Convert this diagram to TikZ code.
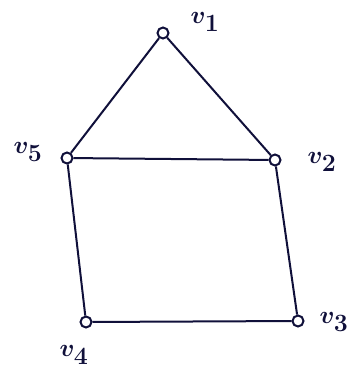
\documentclass[tikz,border=0pt]{standalone}
\usetikzlibrary{positioning}
\definecolor{ink}{HTML}{10103A}
\begin{document}
\begin{tikzpicture}[x=1pt,y=-1pt,
  vtx/.style={circle,draw=ink,line width=2pt,fill=white,minimum size=11pt,inner sep=0pt},
  edge/.style={draw=ink,line width=2pt},
  lbl/.style={text=ink,font=\boldmath\fontsize{35}{35}\selectfont}]
\useasboundingbox (0,0) rectangle (353,380);
\node[vtx] (v1) at (163,33) {};
\node[vtx] (v2) at (275,160) {};
\node[vtx] (v3) at (298,321) {};
\node[vtx] (v4) at (86,322) {};
\node[vtx] (v5) at (67,158) {};
\path[edge] (v1) -- (v2);
\path[edge] (v1) -- (v5);
\path[edge] (v5) -- (v2);
\path[edge] (v5) -- (v4);
\path[edge] (v4) -- (v3);
\path[edge] (v2) -- (v3);
\node[lbl] (l1) at (205,22) {$v_1$};
\node[lbl] (l5) at (28,152) {$v_5$};
\node[lbl] (l2) at (322,162) {$v_2$};
\node[lbl] (l4) at (74,355) {$v_4$};
\node[lbl] (l3) at (334,322) {$v_3$};
\end{tikzpicture}
\end{document}
